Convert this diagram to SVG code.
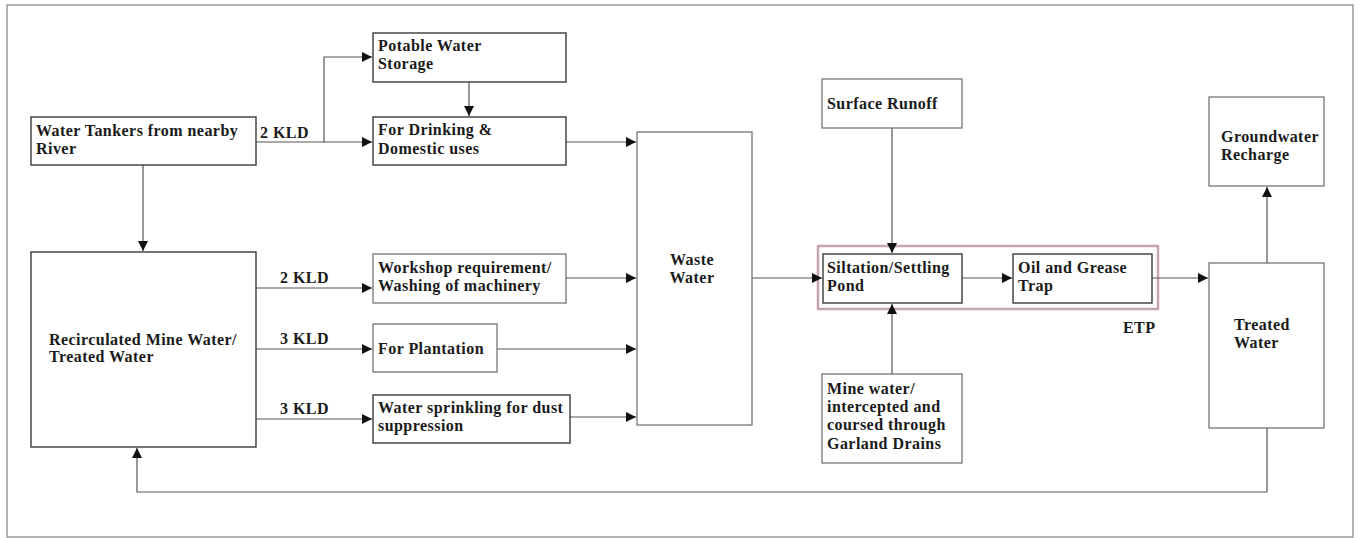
<svg xmlns="http://www.w3.org/2000/svg" width="1359" height="538" viewBox="0 0 1359 538">
  <style>
    .box { fill: #ffffff; stroke: #3a3a3a; stroke-width: 1.4; }
    .lbox { fill: #ffffff; stroke: #6a6a6a; stroke-width: 1.2; }
    .txt { font-family: "Liberation Serif", "Times New Roman", serif; font-weight: bold; font-size: 16px; fill: #1a1a1a; letter-spacing: 0.45px; }
    .wire { fill: none; stroke: #555555; stroke-width: 1.2; }
  </style>
  <defs>
    <marker id="arrow" viewBox="0 0 10 10" refX="10" refY="5" markerWidth="11" markerHeight="10" markerUnits="userSpaceOnUse" orient="auto">
      <path d="M0,0 L10,5 L0,10 z" fill="#111111"/>
    </marker>
  </defs>

  <rect width="1359" height="538" fill="#ffffff"/>
  <!-- frame -->
  <rect x="7" y="5" width="1346" height="532" fill="none" stroke="#9a9a9a" stroke-width="1.5"/>

  <!-- ETP enclosure -->
  <g id="etp">
    <rect x="818" y="246" width="340" height="63" fill="none" stroke="#f2d0d5" stroke-width="3"/>
    <rect x="818" y="246" width="340" height="63" fill="none" stroke="#8c7f81" stroke-width="1"/>
    <text class="txt" x="1123" y="333">ETP</text>
  </g>

  <g id="connectors">
    <!-- tankers to potable / drinking -->
    <polyline class="wire" points="256,142 324,142 324,57 372,57" marker-end="url(#arrow)"/>
    <line class="wire" x1="324" y1="142" x2="372" y2="142" marker-end="url(#arrow)"/>
    <text class="txt" x="260" y="138">2 KLD</text>
    <line class="wire" x1="469" y1="82" x2="469" y2="116" marker-end="url(#arrow)"/>
    <line class="wire" x1="143" y1="165" x2="143" y2="251" marker-end="url(#arrow)"/>
    <!-- recirculated to uses -->
    <line class="wire" x1="256" y1="288" x2="372" y2="288" marker-end="url(#arrow)"/>
    <text class="txt" x="280" y="283">2 KLD</text>
    <line class="wire" x1="256" y1="349" x2="372" y2="349" marker-end="url(#arrow)"/>
    <text class="txt" x="280" y="344">3 KLD</text>
    <line class="wire" x1="256" y1="419" x2="372" y2="419" marker-end="url(#arrow)"/>
    <text class="txt" x="280" y="414">3 KLD</text>
    <!-- uses to waste water -->
    <line class="wire" x1="566" y1="142" x2="636" y2="142" marker-end="url(#arrow)"/>
    <line class="wire" x1="566" y1="278" x2="636" y2="278" marker-end="url(#arrow)"/>
    <line class="wire" x1="497" y1="349" x2="636" y2="349" marker-end="url(#arrow)"/>
    <line class="wire" x1="570" y1="417" x2="636" y2="417" marker-end="url(#arrow)"/>
    <!-- treatment chain -->
    <line class="wire" x1="752" y1="278" x2="822" y2="278" marker-end="url(#arrow)"/>
    <line class="wire" x1="892" y1="128" x2="892" y2="253" marker-end="url(#arrow)"/>
    <line class="wire" x1="892" y1="374" x2="892" y2="304" marker-end="url(#arrow)"/>
    <line class="wire" x1="962" y1="278" x2="1012" y2="278" marker-end="url(#arrow)"/>
    <line class="wire" x1="1152" y1="278" x2="1208" y2="278" marker-end="url(#arrow)"/>
    <line class="wire" x1="1267" y1="263" x2="1267" y2="187" marker-end="url(#arrow)"/>
    <!-- recirculation loop -->
    <polyline class="wire" points="1267,428 1267,492 137,492 137,448" marker-end="url(#arrow)"/>
  </g>

  <g id="water-tankers">
    <rect class="box" x="31" y="117" width="225" height="48"/>
    <text class="txt" x="36" y="136">Water Tankers from nearby</text>
    <text class="txt" x="36" y="154">River</text>
  </g>
  <g id="potable-storage">
    <rect class="box" x="373" y="33" width="193" height="49"/>
    <text class="txt" x="378" y="51">Potable Water</text>
    <text class="txt" x="378" y="69">Storage</text>
  </g>
  <g id="drinking">
    <rect class="box" x="373" y="117" width="193" height="48"/>
    <text class="txt" x="378" y="135">For Drinking &amp;</text>
    <text class="txt" x="378" y="154">Domestic uses</text>
  </g>
  <g id="recirculated">
    <rect class="box" x="31" y="252" width="225" height="195"/>
    <text class="txt" x="49" y="345">Recirculated Mine Water/</text>
    <text class="txt" x="49" y="362">Treated Water</text>
  </g>
  <g id="workshop">
    <rect class="lbox" x="373" y="254" width="193" height="49"/>
    <text class="txt" x="378" y="273">Workshop requirement/</text>
    <text class="txt" x="378" y="291">Washing of machinery</text>
  </g>
  <g id="plantation">
    <rect class="lbox" x="373" y="324" width="124" height="48"/>
    <text class="txt" x="378" y="354">For Plantation</text>
  </g>
  <g id="sprinkling">
    <rect class="box" x="373" y="395" width="197" height="48"/>
    <text class="txt" x="378" y="413">Water sprinkling for dust</text>
    <text class="txt" x="378" y="431">suppression</text>
  </g>
  <g id="waste-water">
    <rect class="lbox" x="637" y="132" width="115" height="293"/>
    <text class="txt" x="692" y="265" text-anchor="middle">Waste</text>
    <text class="txt" x="692" y="283" text-anchor="middle">Water</text>
  </g>
  <g id="surface-runoff">
    <rect class="lbox" x="822" y="79" width="140" height="49"/>
    <text class="txt" x="827" y="109">Surface Runoff</text>
  </g>
  <g id="siltation">
    <rect class="box" x="823" y="254" width="139" height="49"/>
    <text class="txt" x="827" y="273">Siltation/Settling</text>
    <text class="txt" x="827" y="291">Pond</text>
  </g>
  <g id="oil-grease">
    <rect class="box" x="1013" y="254" width="139" height="49"/>
    <text class="txt" x="1018" y="273">Oil and Grease</text>
    <text class="txt" x="1018" y="291">Trap</text>
  </g>
  <g id="mine-water">
    <rect class="lbox" x="822" y="374" width="140" height="89"/>
    <text class="txt" x="827" y="394">Mine water/</text>
    <text class="txt" x="827" y="412">intercepted and</text>
    <text class="txt" x="827" y="430">coursed through</text>
    <text class="txt" x="827" y="449">Garland Drains</text>
  </g>
  <g id="treated-water">
    <rect class="lbox" x="1209" y="263" width="115" height="165"/>
    <text class="txt" x="1234" y="330">Treated</text>
    <text class="txt" x="1234" y="348">Water</text>
  </g>
  <g id="groundwater">
    <rect class="lbox" x="1209" y="97" width="115" height="89"/>
    <text class="txt" x="1221" y="142">Groundwater</text>
    <text class="txt" x="1221" y="160">Recharge</text>
  </g>
</svg>
